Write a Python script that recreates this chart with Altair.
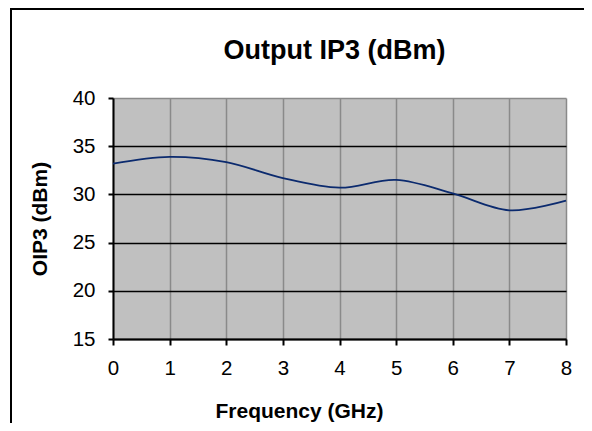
import altair as alt
import pandas as pd

# ---- data ----
freq_ghz = [0, 1, 2, 3, 4, 5, 6, 7, 8]
oip3_dbm = [33.2, 33.9, 33.35, 31.7, 30.7, 31.5, 30.1, 28.35, 29.35]
x_ticks = [0, 1, 2, 3, 4, 5, 6, 7, 8]
y_ticks = [15, 20, 25, 30, 35, 40]

df = pd.DataFrame({"freq": freq_ghz, "oip3": oip3_dbm})

FONT = "Liberation Sans"
GRID_GRAY = "#8a8a8a"

x_axis = alt.Axis(
    values=x_ticks, title="Frequency  (GHz)",
    grid=True, gridColor=GRID_GRAY, gridWidth=1.5,
    domainColor="black", domainWidth=2,
    tickColor="black", tickSize=6, tickWidth=2,
    labelFont=FONT, labelFontSize=20.5, labelColor="black", labelPadding=13,
    labelFlush=False,
    titleFont=FONT, titleFontSize=21, titleFontWeight="bold", titleColor="black",
    titleX=186, titleY=72, titleAlign="center", titleBaseline="middle",
)
y_axis = alt.Axis(
    values=y_ticks, title="OIP3 (dBm)",
    grid=True,
    gridColor={"condition": {"test": "datum.value == 40", "value": GRID_GRAY}, "value": "black"},
    gridWidth=1.6,
    domainColor="black", domainWidth=2,
    tickColor="black", tickSize=5, tickWidth=2,
    labelFont=FONT, labelFontSize=20.5, labelColor="black", labelPadding=13,
    labelFlush=False,
    titleFont=FONT, titleFontSize=21, titleFontWeight="bold", titleColor="black",
    titleAngle=-90, titleX=-73, titleY=120.5, titleAlign="center", titleBaseline="middle",
)

line = alt.Chart(df).mark_line(
    color="#0b2a6e", strokeWidth=1.8, interpolate="cardinal"
).encode(
    x=alt.X("freq:Q", scale=alt.Scale(domain=[0, 8], nice=False), axis=x_axis),
    y=alt.Y("oip3:Q", scale=alt.Scale(domain=[15, 40], nice=False), axis=y_axis),
)

one = alt.Data(values=[{"k": 0}])
frame_top = alt.Chart(one).mark_rule(color="black", strokeWidth=2).encode(
    x=alt.value(-102), x2=alt.value(480), y=alt.value(-89)
)
frame_left = alt.Chart(one).mark_rule(color="black", strokeWidth=2).encode(
    x=alt.value(-102), y=alt.value(-90), y2=alt.value(330)
)

chart = alt.layer(line, frame_top, frame_left).properties(
    width=453, height=241,
    autosize=alt.AutoSizeParams(type="none"),
    padding={"left": 105, "top": 90, "right": 18, "bottom": 84},
    title=alt.TitleParams(
        "Output IP3 (dBm)", font=FONT, fontSize=27, fontWeight="bold",
        color="black", anchor="middle", frame="group", dx=-5, offset=-79,
        baseline="alphabetic",
    ),
).configure(background="white").configure_view(fill="#C0C0C0", strokeWidth=0)

chart.save("out.html", embed_options={"renderer": "svg", "actions": False})
